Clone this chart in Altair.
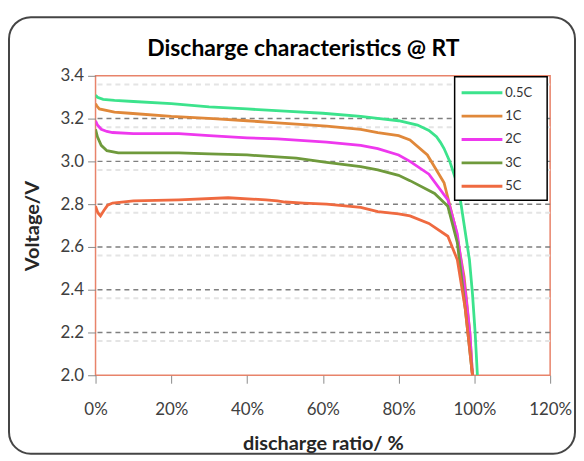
import altair as alt
import pandas as pd

series = ["0.5C", "1C", "2C", "3C", "5C"]
colors = ["#3ce38c", "#e0883a", "#ee38ee", "#6f9a3c", "#ef6a40"]

ratio_05 = [0, 0.5, 2, 5, 10, 20, 30, 40, 50, 60, 70, 75, 80, 85, 88, 90, 91, 92, 93.5, 95, 96.3, 97.5, 98.7, 99.5, 100.2, 100.8]
volt_05 = [3.31, 3.30, 3.29, 3.285, 3.28, 3.27, 3.255, 3.245, 3.235, 3.225, 3.21, 3.20, 3.19, 3.17, 3.145, 3.115, 3.09, 3.06, 3.0, 2.92, 2.82, 2.68, 2.54, 2.38, 2.2, 2.0]

ratio_1 = [0, 0.3, 1, 5, 9, 20, 31, 40, 48, 61, 70, 74.5, 80, 83, 87.6, 92, 95, 97.3, 98.8, 99.5]
volt_1 = [3.27, 3.26, 3.245, 3.23, 3.225, 3.21, 3.2, 3.19, 3.18, 3.165, 3.15, 3.135, 3.12, 3.10, 3.03, 2.90, 2.69, 2.46, 2.2, 2.0]

ratio_2 = [0, 0.5, 1.5, 3, 4.5, 10, 22, 30, 40, 48, 61, 70, 74.5, 80, 83, 88, 93, 95.5, 97.6, 98.8, 99.5]
volt_2 = [3.19, 3.17, 3.15, 3.14, 3.135, 3.13, 3.13, 3.12, 3.11, 3.105, 3.09, 3.075, 3.06, 3.03, 3.0, 2.94, 2.82, 2.66, 2.39, 2.2, 2.0]

ratio_3 = [0, 0.5, 1.5, 3, 6, 10, 22, 30, 40, 53, 61, 70, 74.5, 80, 83, 89.5, 93, 95.5, 97.6, 99.5]
volt_3 = [3.15, 3.115, 3.075, 3.05, 3.04, 3.04, 3.04, 3.035, 3.03, 3.015, 2.995, 2.975, 2.96, 2.935, 2.91, 2.85, 2.79, 2.62, 2.31, 2.0]

ratio_5 = [0, 0.6, 1.3, 2.2, 3.2, 4.5, 10, 22, 35, 45, 48, 50, 55, 61, 70, 74.5, 80, 83, 88, 93, 95.5, 97.6, 99.5]
volt_5 = [2.79, 2.76, 2.745, 2.77, 2.795, 2.805, 2.815, 2.82, 2.83, 2.82, 2.815, 2.81, 2.805, 2.80, 2.785, 2.765, 2.755, 2.745, 2.71, 2.65, 2.54, 2.31, 2.0]

x_ticks = [0, 20, 40, 60, 80, 100, 120]
y_ticks = [2.0, 2.2, 2.4, 2.6, 2.8, 3.0, 3.2, 3.4]
major_grid = [3.2, 3.0, 2.8, 2.6, 2.4, 2.2]
ghost_grid = [3.36, 3.16, 2.96, 2.76, 2.56, 2.36, 2.16]
chart_title = ["Discharge characteristics @ RT"]

rows = []
for name, xs, ys in zip(series, [ratio_05, ratio_1, ratio_2, ratio_3, ratio_5],
                        [volt_05, volt_1, volt_2, volt_3, volt_5]):
    for k, (a, b) in enumerate(zip(xs, ys)):
        rows.append({"series": name, "ratio": a, "v": b, "k": k})
df = pd.DataFrame(rows)

FONT = "Lato"
color_scale = alt.Scale(domain=series, range=colors)
x_scale = alt.Scale(domain=[0, 120], nice=False, zero=False)
y_scale = alt.Scale(domain=[2.0, 3.4], nice=False, zero=False)

x_axis = alt.Axis(values=x_ticks, labelExpr="datum.value + '%'", title="discharge ratio/ %",
                  titleFontWeight="bold", titleFontSize=20, titleFont=FONT, titlePadding=17,
                  labelPadding=18, labelFlush=False, grid=False, domain=False)
y_axis = alt.Axis(values=y_ticks, format=".1f", title="Voltage/V", titleFontWeight="bold",
                  titleFontSize=20, titleFont=FONT, titlePadding=18, labelPadding=4,
                  labelFlush=False, grid=False, domain=False)

border = alt.Chart(pd.DataFrame({"a": [0]})).mark_rect(
    fill="white", fillOpacity=0, stroke="#454545", strokeWidth=2, cornerRadius=22
).encode(x=alt.value(-87), x2=alt.value(482), y=alt.value(-59), y2=alt.value(380))

title_mark = alt.Chart(pd.DataFrame({"t": chart_title})).mark_text(
    font=FONT, fontSize=23, fontWeight="bold", color="#000000", align="center", baseline="middle"
).encode(x=alt.value(209), y=alt.value(-27), text="t:N")

ghost = alt.Chart(pd.DataFrame({"v": ghost_grid})).mark_rule(
    color="#e4e4e4", strokeWidth=2, strokeDash=[5, 4]
).encode(y=alt.Y("v:Q", scale=y_scale, axis=y_axis))

grid = alt.Chart(pd.DataFrame({"v": major_grid})).mark_rule(
    color="#7f7f7f", strokeWidth=1.5, strokeDash=[5, 4]
).encode(y=alt.Y("v:Q", scale=y_scale, axis=y_axis))

lines = alt.Chart(df).mark_line(strokeWidth=2.8, clip=True).encode(
    x=alt.X("ratio:Q", scale=x_scale, axis=x_axis),
    y=alt.Y("v:Q", scale=y_scale, axis=y_axis),
    color=alt.Color("series:N", scale=color_scale, legend=None),
    order="k:Q",
)

leg_df = pd.DataFrame({"series": series, "i": list(range(len(series)))})
leg_box = alt.Chart(pd.DataFrame({"a": [0]})).mark_rect(
    fill="white", stroke="#000000", strokeWidth=1.5
).encode(x=alt.value(361), x2=alt.value(454), y=alt.value(1), y2=alt.value(125))

leg_base = alt.Chart(leg_df).transform_calculate(ly="17 + datum.i * 23.5")
leg_rules = leg_base.mark_rule(strokeWidth=3).encode(
    x=alt.value(368), x2=alt.value(409),
    y=alt.Y("ly:Q", scale=None),
    color=alt.Color("series:N", scale=color_scale, legend=None),
)
leg_text = leg_base.mark_text(align="left", baseline="middle", fontSize=13, font=FONT,
                              color="#333333").encode(
    x=alt.value(412), y=alt.Y("ly:Q", scale=None), text="series:N"
)

chart = alt.layer(border, title_mark, ghost, grid, lines, leg_box, leg_rules, leg_text).properties(
    width=457, height=301,
    background="white",
    autosize=alt.AutoSizeParams(type="none"),
    padding={"left": 88, "top": 67, "right": 26, "bottom": 82},
).configure_view(
    stroke="#e8836a", strokeWidth=1.5
).configure_axis(
    domain=False, grid=False, tickColor="#8a8a8a", tickSize=8, tickWidth=1,
    labelFont=FONT, labelFontSize=17, labelColor="#404040", titleColor="#262626",
)

chart.save("out.html", embed_options={"renderer": "svg", "actions": False})
